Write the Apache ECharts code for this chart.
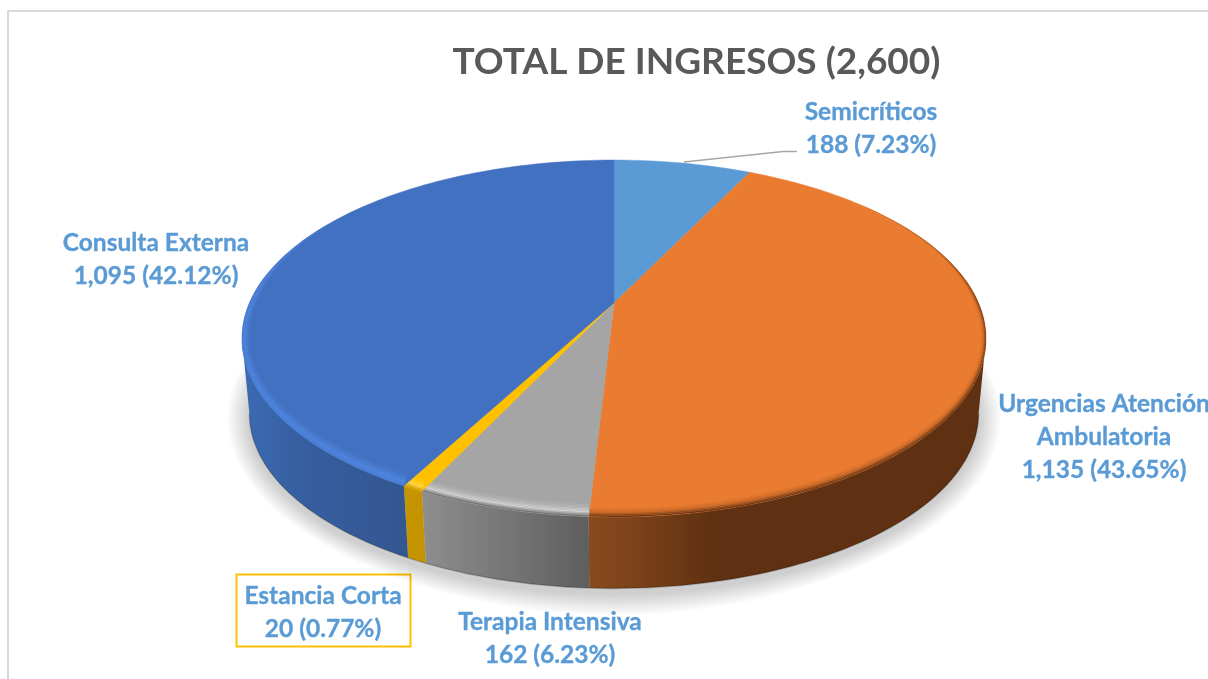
<!DOCTYPE html>
<html>
<head>
<meta charset="utf-8">
<style>html,body{margin:0;padding:0;background:#fff;overflow:hidden}#chart{width:1208px;height:679px}</style>
<script src="https://cdn.jsdelivr.net/npm/echarts@6/dist/echarts.min.js"></script>
</head>
<body>
<div id="chart"></div>
<script>
// ---- data ----
const titleText = 'TOTAL DE INGRESOS (2,600)';
const categories = ['Semicríticos', 'Urgencias Atención\nAmbulatoria', 'Terapia Intensiva', 'Estancia Corta', 'Consulta Externa'];
const values = [188, 1135, 162, 20, 1095];
const valueLabels = ['188 (7.23%)', '1,135 (43.65%)', '162 (6.23%)', '20 (0.77%)', '1,095 (42.12%)'];

// ---- style ----
const faceColors = ['#5B9BD5', '#EA7C31', '#A5A5A5', '#FFC000', '#4371C2'];
const rimStops = [null,
  ['#5f3011', '#c96a29', '#EA7C31', '#EA7C31'],
  ['#666666', '#d2d2d2', '#b4b4b4', '#A5A5A5'],
  ['#c49200', '#ffd84a', '#ffc810', '#FFC000'],
  ['#4a7fd8', '#5088e0', '#4a7bd0', '#4371C2']];
const wallStops = [null,
  [[0, '#8a4a1f'], [0.1, '#7e431b'], [0.32, '#5f3011'], [1, '#5f3011']],
  [[0, '#8e8e8e'], [1, '#5e5e5e']],
  [[0, '#c69500'], [1, '#c49200']],
  [[0, '#3b6bb3'], [0.4, '#365d9f'], [1, '#33578f']]];
const labelLayout = [
  {x: 871, y: 129}, {x: 1104, y: 437}, {x: 550, y: 639}, {x: 323, y: 613}, {x: 156, y: 260}
];
const pie = {cx: 614, cy: 303, a: 364.6, b: 171.4, k: 0.199, floorCy: 378.7, floorScale: 0.98};
const shadowSteps = {rings: 12, spreadPx: 22, dropPx: 5, alpha: 0.017};
const fontFamily = 'Lato, Carlito, "Open Sans", sans-serif';

// ---- projection of the tilted disc ----
function project(deg, r, floor) {
  const t = deg * Math.PI / 180;
  const u = Math.sin(t) * r, v = -Math.cos(t) * r;
  const s = 1 / (1 - pie.k * v);
  const sc = floor ? pie.floorScale : 1;
  return [pie.cx + pie.a * sc * u * s, (floor ? pie.floorCy : pie.cy) + pie.b * sc * v * s];
}
function arc(a0, a1, floor) {
  const n = Math.max(2, Math.ceil(Math.abs(a1 - a0) / 1.5));
  const pts = [];
  for (let i = 0; i <= n; i++) pts.push(project(a0 + (a1 - a0) * i / n, 1, floor));
  return pts;
}
function rimPoint(deg, amount) {
  const t = deg * Math.PI / 180;
  const u = Math.sin(t), v = -Math.cos(t);
  const taper = Math.min(1, Math.max(0, (v + 0.7) / 0.7));
  const p = project(deg, 1, false);
  return [p[0] - u * 8 * taper * amount, p[1] - Math.max(v, 0) * 14 * taper * amount];
}
const total = values.reduce((a, b) => a + b, 0);
const wallA = 90 + Math.asin(pie.k) * 180 / Math.PI, wallB = 360 - wallA;

function renderShadow() {
  const children = [];
  const base = arc(wallA - 25, wallB + 25, true);
  const mid = [pie.cx, 413];
  for (let r = 0; r < shadowSteps.rings; r++) {
    const grow = shadowSteps.spreadPx * (1 - r / shadowSteps.rings);
    const pts = base.map(p => {
      const dx = p[0] - mid[0], dy = p[1] - mid[1];
      const len = Math.sqrt(dx * dx + dy * dy);
      return [p[0] + dx / len * grow, p[1] + dy / len * grow + shadowSteps.dropPx];
    });
    children.push({type: 'polygon', silent: true, shape: {points: pts},
      style: {fill: 'rgba(0,0,0,' + shadowSteps.alpha + ')'}});
  }
  return {type: 'group', children};
}

function renderSlice(params, api) {
  const i = params.dataIndex;
  let before = 0;
  for (let j = 0; j < i; j++) before += values[j];
  const a0 = before / total * 360;
  const a1 = a0 + api.value(0) / total * 360;
  const children = [];

  // outer wall, only on the front part of the disc
  const w0 = Math.max(a0, wallA), w1 = Math.min(a1, wallB);
  if (w1 > w0 && wallStops[i]) {
    const top = arc(w0, w1, false), bottom = arc(w0, w1, true);
    children.push({
      type: 'polygon', shape: {points: top.concat(bottom.slice().reverse())}, silent: true,
      style: {
        fill: {type: 'linear', x: 0, y: 0, x2: 1, y2: 0,
          colorStops: wallStops[i].map(s => ({offset: s[0], color: s[1]}))},
        stroke: 'rgba(0,0,0,0)'
      }
    });
    children.push({
      type: 'polyline', shape: {points: bottom}, silent: true,
      style: {fill: null, stroke: 'rgba(0,0,0,0.22)', lineWidth: 1.5}
    });
  }

  // top face
  children.push({
    type: 'polygon', shape: {points: [[pie.cx, pie.cy]].concat(arc(a0, a1, false))}, silent: true,
    style: {fill: faceColors[i], stroke: faceColors[i], lineWidth: 0.5}
  });

  // rounded rim between the face and the wall
  if (rimStops[i]) {
    const bands = 10, steps = Math.max(2, Math.ceil((a1 - a0) / 1.5));
    for (let b = bands - 1; b >= 0; b--) {
      const t0 = b / bands, t1 = (b + 1) / bands;
      const inner = [], outer = [];
      for (let s = 0; s <= steps; s++) {
        const d = a0 + (a1 - a0) * s / steps;
        inner.push(rimPoint(d, t1));
        outer.push(rimPoint(d, t0));
      }
      children.push({
        type: 'polygon', shape: {points: inner.concat(outer.reverse())}, silent: true,
        style: {fill: echarts.color.lerp((t0 + t1) / 2, rimStops[i]), stroke: null}
      });
    }
  }

  // data label
  const pos = labelLayout[i];
  children.push({
    type: 'text', silent: true, z2: 50,
    style: {
      x: pos.x, y: pos.y, text: categories[i] + '\n' + valueLabels[i],
      align: 'center', verticalAlign: 'middle',
      font: 'bold 24.5px ' + fontFamily, lineHeight: 33, fill: '#5B9BD5',
      stroke: '#5B9BD5', lineWidth: 0.35
    }
  });
  return {type: 'group', children};
}

const chart = echarts.init(document.getElementById('chart'), null, {renderer: 'canvas'});
chart.setOption({
  animation: false,
  backgroundColor: '#ffffff',
  title: {
    text: titleText, left: 691.5, top: 34, textAlign: 'center',
    textStyle: {fontFamily, fontWeight: 'bold', fontSize: 37, color: '#595959', lineHeight: 46}
  },
  graphic: [
    {type: 'rect', silent: true, z: -10, shape: {x: 8, y: 11, width: 1400, height: 900},
      style: {fill: 'none', stroke: '#d9d9d9', lineWidth: 2}},
    {type: 'rect', silent: true, z: 1, shape: {x: 236.5, y: 574.5, width: 174, height: 72},
      style: {fill: 'none', stroke: '#FFC000', lineWidth: 2}},
    {type: 'polyline', silent: true, z: 1, shape: {points: [[684, 162], [783, 151.5], [797, 151.5]]},
      style: {fill: 'none', stroke: '#a6a6a6', lineWidth: 1.6}}
  ],
  series: [
    {
      type: 'custom', coordinateSystem: 'none', silent: true, z: 2, data: [[total]],
      renderItem: renderShadow
    },
    {
      type: 'custom', coordinateSystem: 'none', silent: true, z: 3,
      data: values.map((v, i) => ({name: categories[i], value: [v]})),
      encode: {value: 0},
      renderItem: renderSlice
    }
  ]
});
</script>
</body>
</html>
